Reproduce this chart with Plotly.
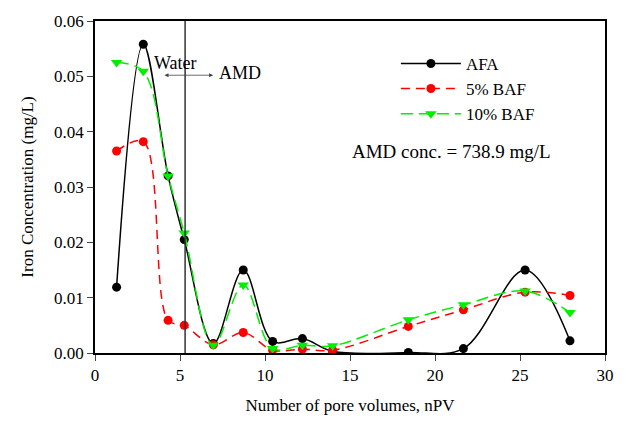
import plotly.graph_objects as go

pv = [1.27, 2.84, 4.3, 5.25, 6.96, 8.72, 10.45, 12.2, 13.98, 18.43, 21.67, 25.3, 27.94]
afa = [0.0119, 0.0558, 0.0320, 0.0205, 0.0017, 0.0150, 0.0021, 0.0026, 0.0003, 0.0001, 0.0008, 0.0150, 0.0022]
baf5 = [0.0365, 0.0382, 0.0059, 0.0050, 0.0015, 0.0037, 0.0005, 0.0007, 0.0005, 0.0048, 0.0078, 0.0110, 0.0104]
baf10 = [0.0525, 0.0509, 0.0320, 0.0217, 0.0014, 0.0123, 0.0008, 0.0014, 0.0013, 0.0060, 0.0087, 0.0112, 0.0073]

x_ticks = [0, 5, 10, 15, 20, 25, 30]
y_ticks = [0.00, 0.01, 0.02, 0.03, 0.04, 0.05, 0.06]
switch_pv = 5.3

FONT = "Liberation Serif, Times New Roman, serif"

fig = go.Figure()
fig.add_trace(go.Scatter(x=pv, y=afa, name="AFA", mode="lines+markers",
                         line=dict(color="black", width=1.5, shape="spline"),
                         marker=dict(symbol="circle", size=9, color="black")))
fig.add_trace(go.Scatter(x=pv, y=baf5, name="5% BAF", mode="lines+markers",
                         line=dict(color="#ff0000", width=1.5, shape="spline", dash="9px,6px"),
                         marker=dict(symbol="circle", size=9, color="#ff0000")))
fig.add_trace(go.Scatter(x=pv, y=baf10, name="10% BAF", mode="lines+markers",
                         line=dict(color="#00ee00", width=1.5, shape="spline", dash="12px,6px"),
                         marker=dict(symbol="triangle-down", size=10, color="#00ee00")))

fig.add_shape(type="line", x0=switch_pv, x1=switch_pv, y0=0, y1=0.06,
              xref="x", yref="y", line=dict(color="#333333", width=1.5))

fig.add_annotation(x=6.95, y=0.0502, ax=4.0, ay=0.0502, xref="x", yref="y",
                   axref="x", ayref="y", text="", showarrow=True,
                   arrowhead=2, startarrowhead=2, arrowside="end+start",
                   arrowsize=1, arrowwidth=0.8, arrowcolor="#444444")
fig.add_annotation(x=3.35, y=0.0525, xref="x", yref="y", text="Water", showarrow=False,
                   xanchor="left", font=dict(family=FONT, size=18, color="black"))
fig.add_annotation(x=7.15, y=0.0506, xref="x", yref="y", text="AMD", showarrow=False,
                   xanchor="left", font=dict(family=FONT, size=18, color="black"))
fig.add_annotation(x=15.0, y=0.0365, xref="x", yref="y", text="AMD conc. = 738.9 mg/L",
                   showarrow=False, xanchor="left", font=dict(family=FONT, size=19, color="black"))

fig.update_layout(
    width=628, height=431,
    margin=dict(l=95, r=23, t=15, b=78),
    paper_bgcolor="white", plot_bgcolor="white",
    font=dict(family=FONT, size=17, color="black"),
    showlegend=True,
    legend=dict(x=0.59, y=0.925, xanchor="left", yanchor="top",
                bgcolor="rgba(0,0,0,0)", font=dict(family=FONT, size=17),
                itemwidth=60, tracegroupgap=0),
)
fig.update_xaxes(range=[0, 30], tickvals=x_ticks, ticks="outside", ticklen=6,
                 showline=True, linecolor="black", linewidth=1.5, mirror=True,
                 showgrid=False, zeroline=False,
                 title=dict(text="Number of pore volumes, nPV", font=dict(family=FONT, size=17), standoff=15))
fig.update_yaxes(range=[0, 0.06], tickvals=y_ticks, tickformat=".2f", ticks="outside", ticklen=6,
                 showline=True, linecolor="black", linewidth=1.5, mirror=True,
                 showgrid=False, zeroline=False,
                 title=dict(text="Iron Concentration (mg/L)", font=dict(family=FONT, size=17), standoff=16))

fig.write_html("out.html")
